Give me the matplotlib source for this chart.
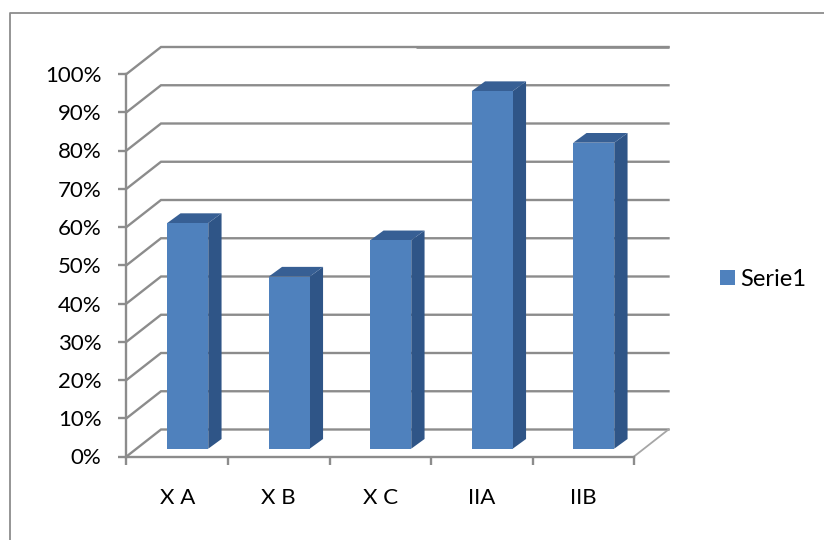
import matplotlib
matplotlib.use("Agg")
import matplotlib.pyplot as plt
from matplotlib.lines import Line2D
from matplotlib.patches import Polygon, Patch

categories = ["X A", "X B", "X C", "IIA", "IIB"]
values = [59, 45, 54.5, 93.5, 80]
y_ticks = [0, 10, 20, 30, 40, 50, 60, 70, 80, 90, 100]
y_labels = ["0%", "10%", "20%", "30%", "40%", "50%", "60%", "70%", "80%", "90%", "100%"]
series_name = "Serie1"

W, H = 824, 540
LEFT, RIGHT, BOTTOM, TOP = 126.5, 634, 456.5, 74

# depth of the fake 3d box, in data units
DEPTH_X = 34.5 / 101.5
DEPTH_Y = 27 / 3.825
BAR_X = 10.5 / 101.5
BAR_Y = 7.8 / 3.825
BAR_DX = 13.3 / 101.5
BAR_DY = 9.7 / 3.825
BAR_W = 0.404

GRID = "#8c8c8c"
FRONT = "#4f81bd"
SIDE = "#2f5587"
TOP_FACE = "#375f94"


def draw_walls(ax):
    n = len(categories)
    for v in y_ticks:
        ax.plot([0, DEPTH_X, n + DEPTH_X], [v, v + DEPTH_Y, v + DEPTH_Y],
                color=GRID, lw=1.7, zorder=1, clip_on=False, solid_joinstyle="miter")
    # the top line is a bit heavier on its right part
    ax.plot([2.85, n + DEPTH_X], [100 + DEPTH_Y - 0.1, 100 + DEPTH_Y - 0.1],
            color=GRID, lw=1.9, zorder=1, clip_on=False, solid_capstyle="butt")
    ax.plot([n, n + DEPTH_X], [0, DEPTH_Y], color="#a6a6a6", lw=1.3, zorder=1, clip_on=False)


def draw_bars(ax):
    for i, v in enumerate(values):
        x0 = i + 0.5 - BAR_W / 2 + BAR_X
        x1 = x0 + BAR_W
        y0 = BAR_Y
        y1 = BAR_Y + v
        ax.add_patch(Polygon([(x1, y0), (x1 + BAR_DX, y0 + BAR_DY), (x1 + BAR_DX, y1 + BAR_DY), (x1, y1)],
                             facecolor=SIDE, edgecolor="none", zorder=3, clip_on=False))
        ax.add_patch(Polygon([(x0, y1), (x1, y1), (x1 + BAR_DX, y1 + BAR_DY), (x0 + BAR_DX, y1 + BAR_DY)],
                             facecolor=TOP_FACE, edgecolor="none", zorder=3, clip_on=False))
        ax.add_patch(Polygon([(x0, y0), (x1, y0), (x1, y1), (x0, y1)],
                             facecolor=FRONT, edgecolor="none", zorder=4, clip_on=False))


def main():
    plt.rcParams["font.family"] = ["Lato", "DejaVu Sans"]
    fig = plt.figure(figsize=(W / 100, H / 100), dpi=100)
    ax = fig.add_axes([LEFT / W, 1 - BOTTOM / H, (RIGHT - LEFT) / W, (BOTTOM - TOP) / H])
    ax.set_xlim(0, len(categories))
    ax.set_ylim(0, 100)
    ax.patch.set_visible(False)

    draw_walls(ax)
    draw_bars(ax)

    for side in ["top", "right"]:
        ax.spines[side].set_visible(False)
    for side in ["left", "bottom"]:
        ax.spines[side].set_color(GRID)
        ax.spines[side].set_linewidth(1.7)

    ax.set_yticks(y_ticks)
    ax.set_yticklabels(y_labels, fontsize=16, color="black")
    ax.tick_params(axis="y", length=6, width=1.7, color=GRID, pad=12)

    ax.set_xticks(range(len(categories) + 1))
    ax.set_xticklabels([])
    ax.tick_params(axis="x", which="major", length=5.5, width=1.7, color=GRID)
    ax.set_xticks([i + 0.5 for i in range(len(categories))], minor=True)
    ax.set_xticklabels(categories, minor=True, fontsize=16, color="black")
    ax.tick_params(axis="x", which="minor", length=0, pad=23)

    handle = Patch(facecolor=FRONT, edgecolor="none", label=series_name)
    fig.legend(handles=[handle], loc="center left", bbox_to_anchor=(715 / W, 1 - 279 / H),
               frameon=False, fontsize=17, handlelength=0.635, handleheight=0.6,
               handletextpad=0.25, borderpad=0.2, borderaxespad=0)

    # outer chart frame, only top and left are in the crop
    fig.add_artist(Line2D([9.5 / W, 9.5 / W, 1], [0, 1 - 13 / H, 1 - 13 / H], color=GRID, lw=1.3))

    fig.savefig("out.png", dpi=100)


if __name__ == "__main__":
    main()
